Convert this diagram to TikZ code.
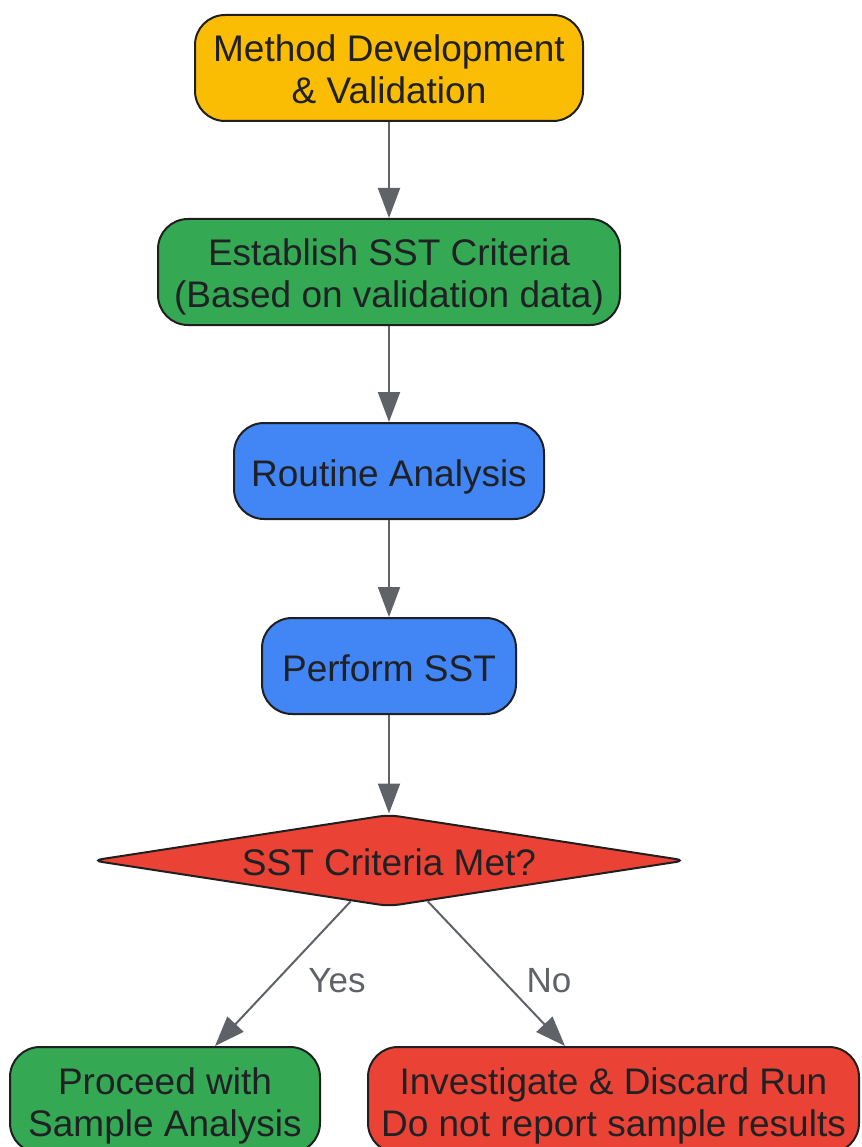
\documentclass[tikz,border=0pt]{standalone}
\usepackage{fontspec}
\setmainfont{Liberation Sans}
\usetikzlibrary{arrows.meta,shapes.geometric,calc}
\definecolor{gyellow}{HTML}{FBBC04}
\definecolor{ggreen}{HTML}{34A853}
\definecolor{gblue}{HTML}{4285F4}
\definecolor{gred}{HTML}{EA4335}
\definecolor{edgegray}{HTML}{5F6368}
\definecolor{txtdark}{HTML}{202124}
\definecolor{borderdark}{HTML}{1F1F1F}
\newcommand{\boxtext}[1]{\begin{tabular}{@{}c@{}}\rule{0pt}{42.6pt}#1\end{tabular}}
\newcommand{\flattext}[1]{\raisebox{-15pt}[0pt][0pt]{#1}}
\tikzset{
  box/.style={draw=borderdark, line width=2pt, rounded corners=30pt, inner sep=0pt,
    text=txtdark, font=\fontsize{37}{42}\selectfont},
  decision/.style={diamond, draw=borderdark, line width=2pt, rounded corners=10pt,
    inner sep=0pt, aspect=6.42, text=txtdark, font=\fontsize{37}{42}\selectfont},
  flow/.style={draw=edgegray, line width=2pt, -{Triangle[length=30pt,width=22pt]}},
  elabel/.style={text=edgegray, font=\fontsize{35}{42}\selectfont, inner sep=0pt}
}
\begin{document}
\begin{tikzpicture}[x=1pt,y=-1pt]
\useasboundingbox (0,0) rectangle (861,1147);
\clip (0,0) rectangle (861,1147);
\node[box, fill=gyellow, minimum width=388pt, minimum height=106pt] (mdv) at (389,68) {\boxtext{Method Development\\\& Validation}};
\node[box, fill=ggreen, minimum width=462pt, minimum height=106pt] (est) at (389,272) {\boxtext{Establish SST Criteria\\(Based on validation data)}};
\node[box, fill=gblue, minimum width=310pt, minimum height=96pt] (rout) at (389,471) {\boxtext{Routine Analysis}};
\node[box, fill=gblue, minimum width=254pt, minimum height=96pt] (perf) at (389,666) {\boxtext{Perform SST}};
\node[decision, fill=gred, minimum width=594pt, minimum height=92pt] (dec) at (389,860.5) {\flattext{SST Criteria Met?}};
\node[box, fill=ggreen, minimum width=310pt, minimum height=106pt] (proc) at (165,1100) {\boxtext{Proceed with\\Sample Analysis}};
\node[box, fill=gred, minimum width=491pt, minimum height=106pt] (inv) at (613.5,1100) {\boxtext{Investigate \& Discard Run\\Do not report sample results}};
\coordinate (yesT) at ($(proc.north)+(50,0)$);
\coordinate (noT) at ($(inv.north)+(-48.5,0)$);
\draw[flow] (mdv) -- (est);
\draw[flow] (est) -- (rout);
\draw[flow] (rout) -- (perf);
\draw[flow] (perf) -- (dec);
\draw[flow] (dec) -- (yesT);
\draw[flow] (dec) -- (noT);
\node[elabel] (yes) at (337,981) {Yes};
\node[elabel] (no) at (549,981) {No};
\end{tikzpicture}
\end{document}
